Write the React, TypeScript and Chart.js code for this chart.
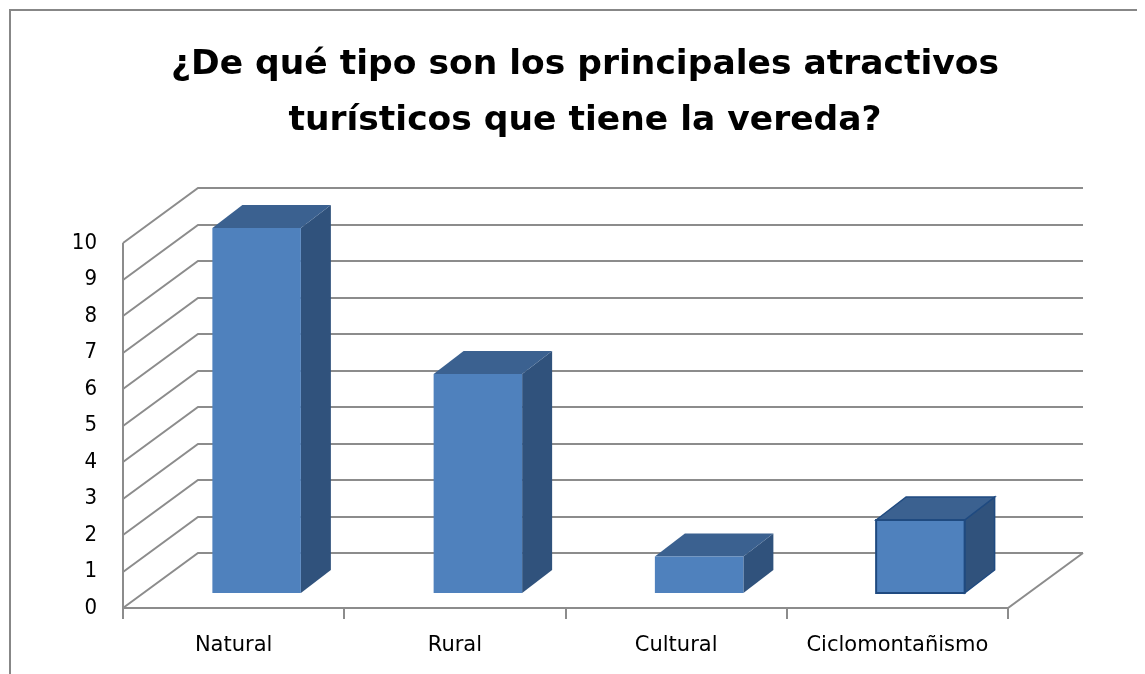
import React, { useEffect, useRef } from "react";
import { Chart, registerables } from "chart.js";

Chart.register(...registerables);

// ---- data ----
const TITLE_LINES = [
  "¿De qué tipo son los principales atractivos",
  "turísticos que tiene la vereda?",
];
const CATEGORIES = ["Natural", "Rural", "Cultural", "Ciclomontañismo"];
const VALUES = [10, 6, 1, 2];
const Y_MIN = 0;
const Y_MAX = 10;
const Y_STEP = 1;

// ---- style / geometry ----
const W = 1137;
const H = 666;
const WALL = { dx: 75, dy: -55 };
const BAR_FRONT = { dx: 23, dy: -15 };
const BAR_DEPTH = { dx: 30, dy: -23 };
const GRID_COLOR = "#8c8c8c";
const BORDER_COLOR = "#878787";
const FRONT_COLOR = "#4f81bd";
const TOP_COLOR = "#3b6190";
const SIDE_COLOR = "#30527c";
const OUTLINES = [null, null, null, "#1f4a80"];
const FONT_COND = '"DejaVu Sans Condensed", "DejaVu Sans", sans-serif';
const FONT = '"DejaVu Sans", sans-serif';

const threeDPlugin = {
  id: "threeD",
  beforeDraw(chart: any) {
    const ctx = chart.ctx;
    ctx.save();
    ctx.fillStyle = "#ffffff";
    ctx.fillRect(0, 0, chart.width, chart.height);
    ctx.fillStyle = BORDER_COLOR;
    ctx.fillRect(1, 1, chart.width - 1, 2);
    ctx.fillRect(1, 1, 2, chart.height - 1);
    ctx.restore();
  },
  beforeDatasetsDraw(chart: any) {
    const { ctx, chartArea: a, scales } = chart;
    const ys = scales.y;
    const xs = scales.x;
    ctx.save();
    ctx.strokeStyle = GRID_COLOR;
    ctx.lineWidth = 2;
    // back wall gridlines + side wall diagonals
    ys.ticks.forEach((t: any) => {
      const py = Math.round(ys.getPixelForValue(t.value));
      ctx.beginPath();
      ctx.moveTo(a.left, py);
      ctx.lineTo(a.left + WALL.dx, py + WALL.dy);
      ctx.lineTo(a.right + WALL.dx, py + WALL.dy);
      ctx.stroke();
    });
    // front left vertical edge
    const bottom = Math.round(ys.getPixelForValue(Y_MIN));
    const top = Math.round(ys.getPixelForValue(Y_MAX));
    ctx.beginPath();
    ctx.moveTo(a.left, top);
    ctx.lineTo(a.left, bottom);
    ctx.stroke();
    // floor front + right edge
    ctx.beginPath();
    ctx.moveTo(a.left, bottom);
    ctx.lineTo(a.right, bottom);
    ctx.lineTo(a.right + WALL.dx, bottom + WALL.dy);
    ctx.stroke();
    // tick marks at category boundaries
    for (let i = 0; i <= CATEGORIES.length; i++) {
      const px = Math.round(xs.getPixelForValue(i - 0.5));
      ctx.beginPath();
      ctx.moveTo(px, bottom);
      ctx.lineTo(px, bottom + 11);
      ctx.stroke();
    }
    ctx.restore();
  },
  afterDatasetsDraw(chart: any) {
    const ctx = chart.ctx;
    const meta = chart.getDatasetMeta(0);
    ctx.save();
    meta.data.forEach((bar: any, i: number) => {
      const p = bar.getProps(["x", "y", "base", "width"], true);
      const x0 = p.x - p.width / 2 + BAR_FRONT.dx;
      const x1 = p.x + p.width / 2 + BAR_FRONT.dx;
      const yT = p.y + BAR_FRONT.dy;
      const yB = p.base + BAR_FRONT.dy;
      const dx = BAR_DEPTH.dx;
      const dy = BAR_DEPTH.dy;
      const outline = OUTLINES[i];
      // side
      ctx.beginPath();
      ctx.moveTo(x1, yT);
      ctx.lineTo(x1 + dx, yT + dy);
      ctx.lineTo(x1 + dx, yB + dy);
      ctx.lineTo(x1, yB);
      ctx.closePath();
      ctx.fillStyle = SIDE_COLOR;
      ctx.fill();
      if (outline) { ctx.strokeStyle = outline; ctx.lineWidth = 1.5; ctx.stroke(); }
      // top
      ctx.beginPath();
      ctx.moveTo(x0, yT);
      ctx.lineTo(x0 + dx, yT + dy);
      ctx.lineTo(x1 + dx, yT + dy);
      ctx.lineTo(x1, yT);
      ctx.closePath();
      ctx.fillStyle = TOP_COLOR;
      ctx.fill();
      if (outline) { ctx.strokeStyle = outline; ctx.lineWidth = 1.5; ctx.stroke(); }
      // front
      ctx.beginPath();
      ctx.rect(x0, yT, x1 - x0, yB - yT);
      ctx.fillStyle = FRONT_COLOR;
      ctx.fill();
      if (outline) { ctx.strokeStyle = outline; ctx.lineWidth = 2; ctx.stroke(); }
    });
    ctx.restore();
  },
};

export default function App() {
  const ref = useRef<HTMLCanvasElement | null>(null);
  useEffect(() => {
    if (!ref.current) return;
    const chart = new Chart(ref.current, {
      type: "bar",
      data: {
        labels: CATEGORIES,
        datasets: [
          {
            data: VALUES,
            backgroundColor: "rgba(0,0,0,0)",
            borderWidth: 0,
            barPercentage: 0.4,
            categoryPercentage: 1,
          },
        ],
      },
      options: {
        responsive: false,
        animation: false,
        devicePixelRatio: 1,
        layout: { padding: { left: 17, right: 0, top: 0, bottom: 0 } },
        plugins: {
          legend: { display: false },
          tooltip: { enabled: false },
          title: {
            display: true,
            text: TITLE_LINES,
            color: "#000000",
            font: { family: FONT, size: 34.5, weight: "bold", lineHeight: 56 / 34.5 },
            padding: { top: 29, bottom: 94 },
          },
        },
        scales: {
          x: {
            grid: { display: false, drawTicks: false },
            border: { display: false },
            ticks: {
              color: "#000000",
              font: { family: FONT, size: 21 },
              padding: 25,
              maxRotation: 0,
              autoSkip: false,
            },
            afterFit: (s: any) => { s.height = 66; },
          },
          y: {
            min: Y_MIN,
            max: Y_MAX,
            grid: { display: false, drawTicks: false },
            border: { display: false },
            ticks: {
              stepSize: Y_STEP,
              color: "#000000",
              font: { family: FONT_COND, size: 22 },
              padding: 26,
            },
            afterFit: (s: any) => { s.width = 98; },
          },
          y2: {
            type: "linear",
            position: "right",
            display: true,
            grid: { display: false, drawTicks: false },
            border: { display: false },
            ticks: { display: false },
            afterFit: (s: any) => { s.width = 137; },
          },
        },
      },
      plugins: [threeDPlugin],
    });
    return () => chart.destroy();
  }, []);
  return (
    <div style={{ width: W, height: H }}>
      <canvas ref={ref} width={W} height={H} style={{ display: "block", width: W, height: H }} />
    </div>
  );
}
